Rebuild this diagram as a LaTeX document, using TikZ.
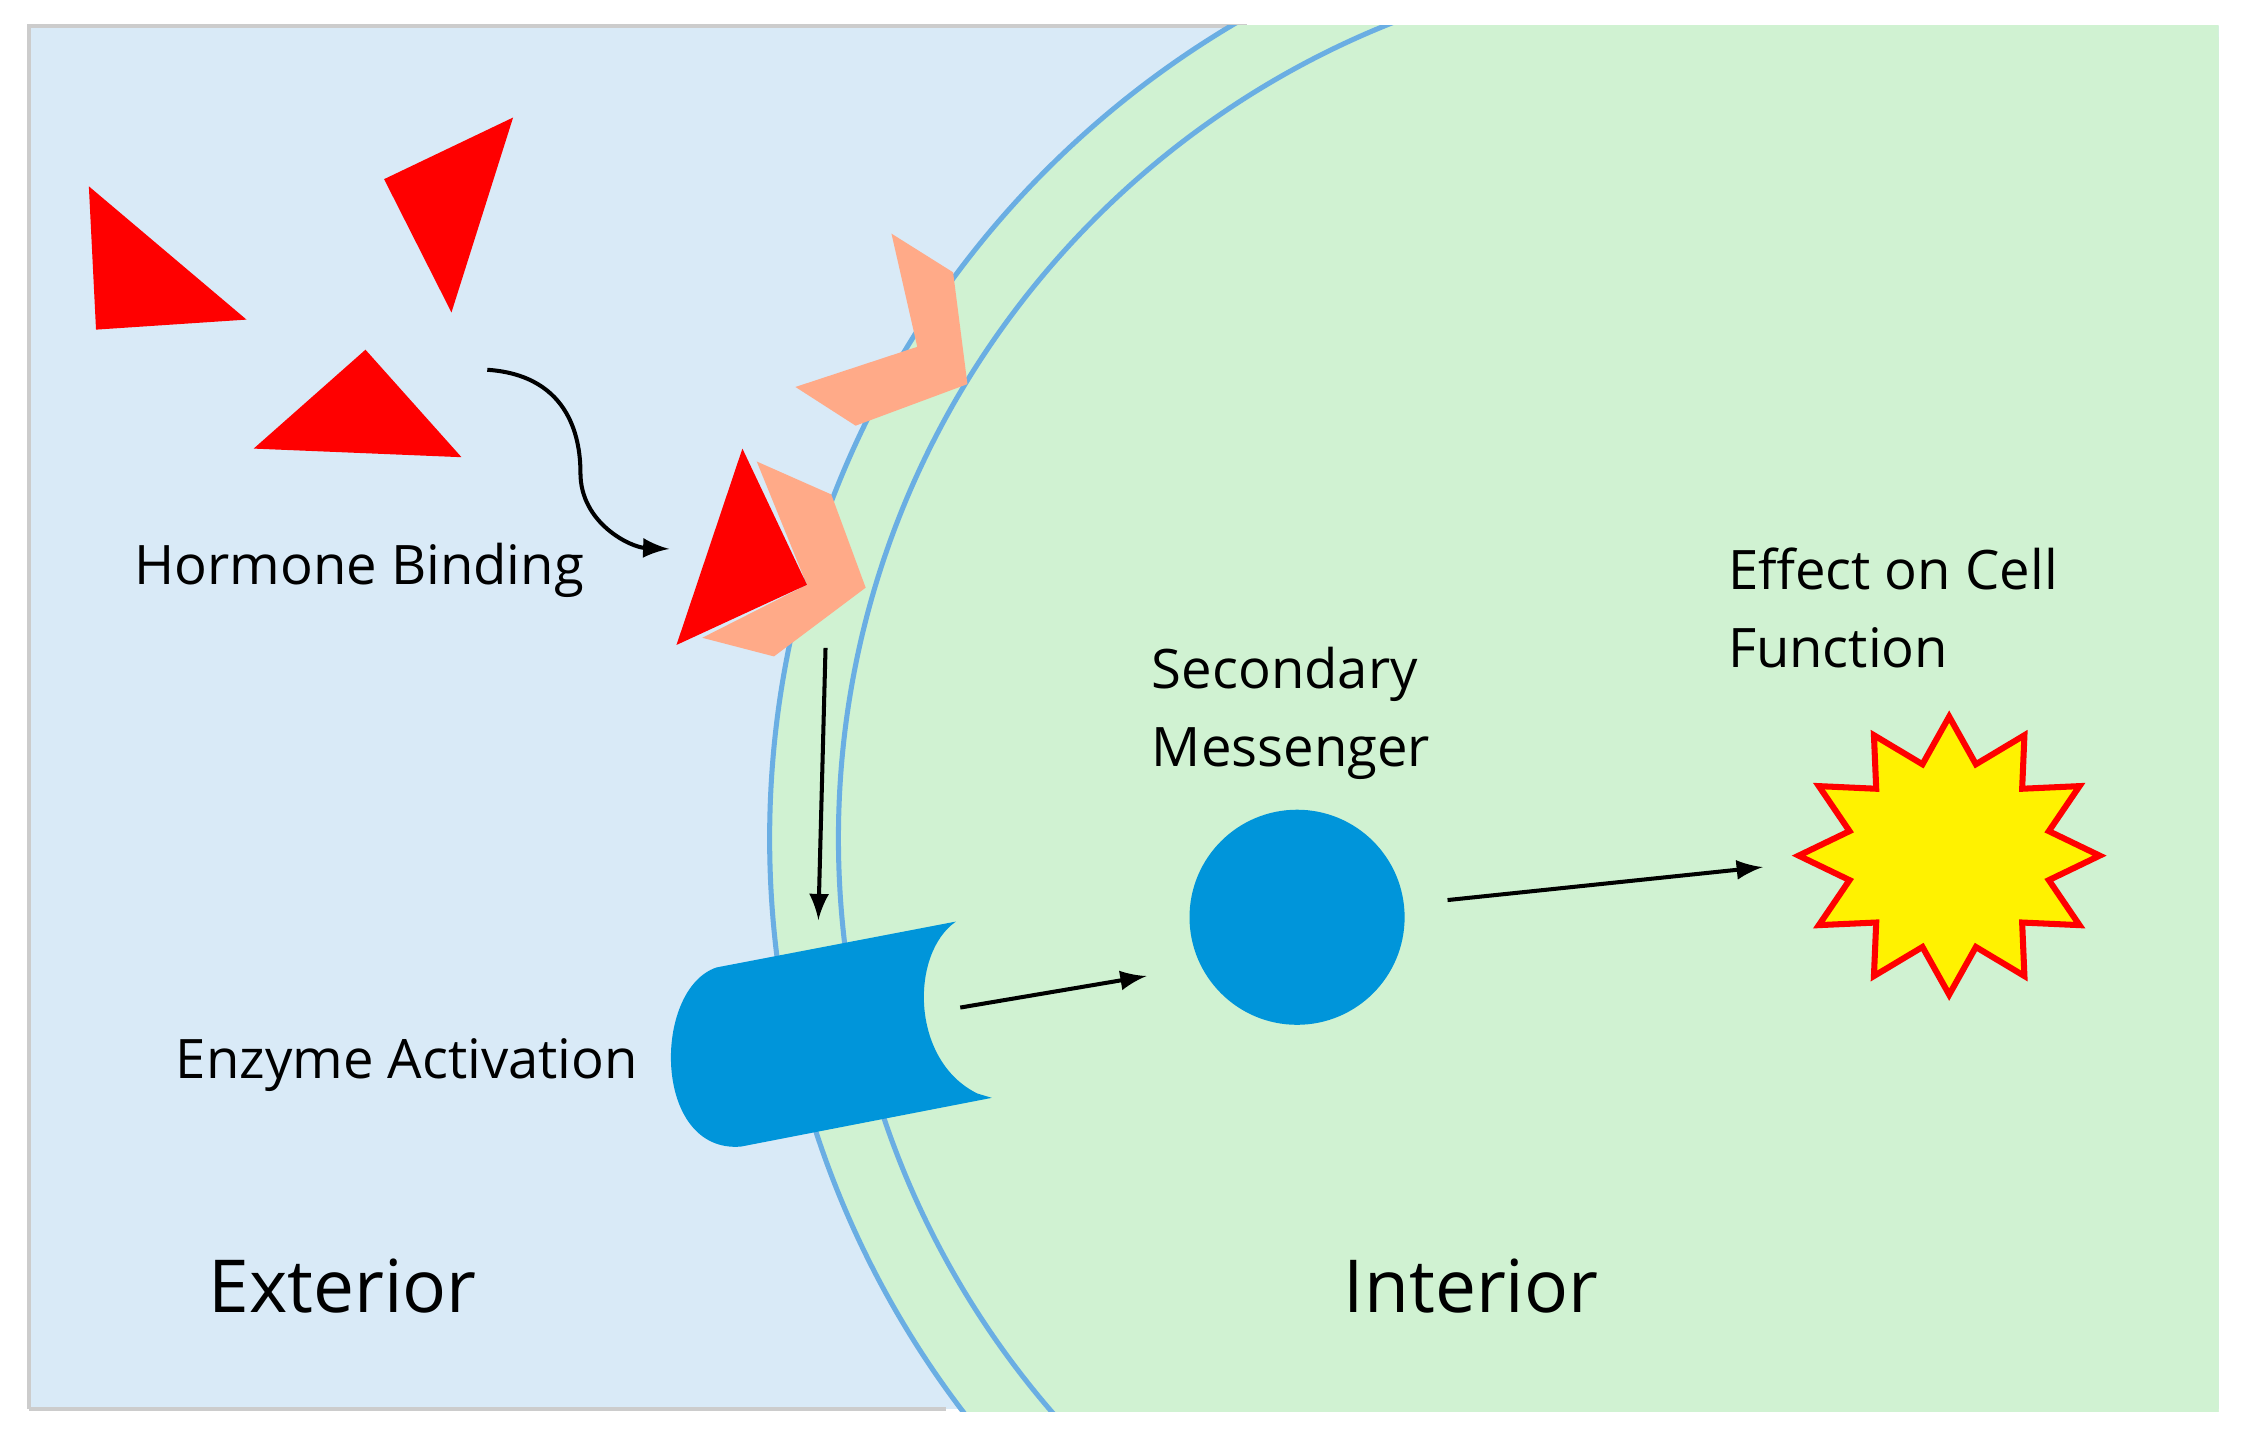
\documentclass[tikz,border=0pt]{standalone}
\usepackage{fontspec}
\setmainfont{Open Sans}
\begin{document}
\begin{tikzpicture}[x=0.01cm,y=-0.01cm,
  lbl/.style={font=\fontsize{10.8}{15.5}\selectfont,anchor=west,align=left,inner sep=0pt},
  big/.style={font=\fontsize{14.5}{18}\selectfont,anchor=west,inner sep=0pt},
  arr/.style={-latex,line width=0.8pt},
  memb/.style={draw=cyan!70!blue!60,line width=1pt}]
\definecolor{extc}{HTML}{D9EAF7}
\definecolor{intc}{HTML}{D0F2D2}
\definecolor{rec}{HTML}{FFAA88}
\definecolor{enz}{HTML}{0095DA}
\useasboundingbox (0,0) rectangle (1565,1000);
\fill[extc] (20,18) rectangle (1548,983);
\draw[gray!40,line width=0.8pt] (20,983) -- (20,18) -- (870,18);
\draw[gray!40,line width=0.8pt] (20,983) -- (660,983);
\begin{scope}
\clip (20,18) rectangle (1548,985);
\fill[intc] (1197,585) circle (660);
\fill[intc] (1197,0) rectangle (1548,1000);
\clip (0,0) rectangle (1197,1000);
\draw[memb] (1197,585) circle (660);
\draw[memb] (1197,585) circle (612);
\end{scope}
% free hormones
\fill[red] (62,130) -- (172,223) -- (67,230) -- cycle;
\fill[red] (268,125) -- (358,82) -- (315,218) -- cycle;
\fill[red] (255,244) -- (322,319) -- (177,313) -- cycle;
% receptors
\fill[rec] (622,163) -- (665,190) -- (675,268) -- (597,297) -- (555,270) -- (640,242) -- cycle;
\fill[rec] (528,322) -- (580,345) -- (604,410) -- (540,458) -- (490,445) -- (563,408) -- cycle;
\fill[red] (518,313) -- (563,408) -- (472,450) -- cycle;
% enzyme
\fill[enz] (667,643) -- (500,675) .. controls (455,690) and (455,805) .. (517,800) -- (692,766)
  -- (682,763) .. controls (635,740) and (635,665) .. (667,643) -- cycle;
% messenger
\node[circle,fill=enz,inner sep=0pt,minimum size=1.5cm] (msg) at (905,640) {};
% star
\fill[yellow,draw=red,line width=1.2pt]
  (1360,500) \foreach \i in {1,...,23}{ -- ({1360+ (mod(\i,2)==0 ? 105 : 72)*sin(\i*15)},{597-(mod(\i,2)==0 ? 97 : 66)*cos(\i*15)}) } -- cycle;
% arrows
\coordinate (c1) at (340,258); \coordinate (c2) at (467,383);
\draw[arr] (c1) .. controls (400,262) and (405,310) .. (405,330) .. controls (405,365) and (440,382) .. (c2);
\coordinate (d1) at (576,452); \coordinate (d2) at (571,642);
\draw[arr] (d1) -- (d2);
\coordinate (e1) at (670,703); \coordinate (e2) at (800,681);
\draw[arr] (e1) -- (e2);
\coordinate (f1) at (1010,628); \coordinate (f2) at (1230,605);
\draw[arr] (f1) -- (f2);
% labels
\node[lbl] (hb) at (93,398) {Hormone Binding};
\node[lbl] (ea) at (122,743) {Enzyme Activation};
\node[lbl] (sm) at (803,498) {Secondary\\Messenger};
\node[lbl] (ef) at (1205,424) {Effect on Cell\\Function};
\node[big] (ex) at (145,897) {Exterior};
\node[big] (in) at (937,897) {Interior};
\end{tikzpicture}
\end{document}
